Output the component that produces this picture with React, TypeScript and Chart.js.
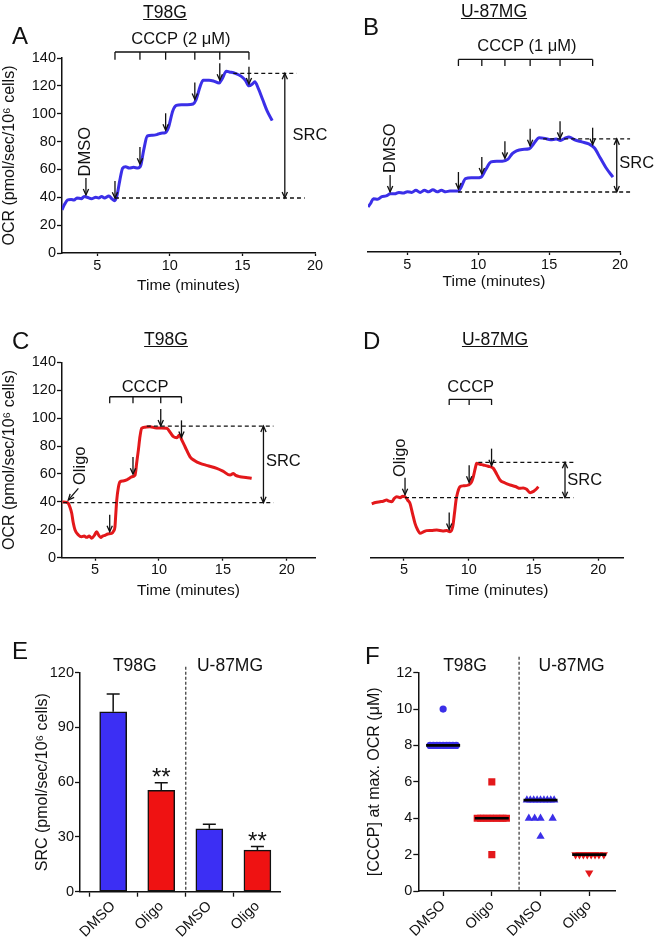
import React, { useEffect, useRef } from 'react';
import { Chart, registerables } from 'chart.js';

Chart.register(...registerables);

const FONT = '"Liberation Sans", Arial, Helvetica, sans-serif';
const INK = '#111111';
const BLUE = '#3b2fe8';
const RED = '#e3181b';
const BAR_BLUE = '#3c2ff4';
const BAR_RED = '#ef1212';

Chart.defaults.font.family = FONT;
Chart.defaults.color = INK;

// ---------------- Panel A : T98G, DMSO then CCCP (2 µM) ----------------
const aTrace: [number, number][] = [
  [2.57, 31], [2.75, 35], [2.95, 38], [3.2, 38.5], [3.4, 38], [3.6, 39.5], [3.9, 39], [4.1, 40.5],
  [4.3, 40], [4.6, 39], [4.9, 40], [5.1, 39.5], [5.3, 40.5], [5.5, 39.5], [5.8, 41], [6.0, 39],
  [6.2, 37.5], [6.35, 41], [6.55, 52], [6.75, 61], [6.95, 62], [7.2, 61], [7.5, 61.5], [7.8, 61],
  [8.0, 63], [8.2, 74], [8.45, 84], [8.8, 84.5], [9.1, 85], [9.4, 86], [9.7, 86.5], [9.9, 90],
  [10.2, 102], [10.45, 106], [10.8, 106.5], [11.2, 106.5], [11.6, 107], [11.8, 110], [12.1, 120],
  [12.3, 124], [12.7, 124], [13.0, 123.5], [13.4, 122], [13.6, 125], [13.9, 130.5], [14.1, 130],
  [14.5, 129], [14.9, 127], [15.2, 124], [15.45, 120], [15.7, 121.5], [15.85, 123], [16.1, 118],
  [16.4, 110], [16.7, 102], [17.05, 95],
];
const aDmsoAt = 4.22;
const aCcccpAt = [6.22, 7.94, 9.71, 11.72, 13.44, 15.45];
const aSrcMax = 129;
const aSrcBasal = 39.5;

// ---------------- Panel B : U-87MG, DMSO then CCCP (1 µM) ----------------
const bTrace: [number, number][] = [
  [2.22, 32.5], [2.4, 35], [2.6, 38.5], [2.9, 38], [3.2, 40], [3.5, 40.5], [3.8, 42], [4.1, 42],
  [4.4, 43], [4.7, 42.5], [5.0, 43.5], [5.3, 43], [5.6, 44.5], [5.9, 43], [6.2, 44.5], [6.5, 43.5],
  [6.8, 45], [7.1, 43.5], [7.4, 44.5], [7.7, 43.5], [8.0, 44], [8.3, 44], [8.6, 44], [8.8, 47],
  [9.1, 53], [9.5, 53.5], [9.9, 53.5], [10.2, 54], [10.5, 59], [10.9, 65], [11.3, 65.5], [11.7, 65.5],
  [12.1, 67], [12.4, 71], [12.7, 73], [13.1, 74], [13.6, 74.5], [13.9, 78], [14.3, 82.5], [14.7, 82],
  [15.1, 81], [15.5, 81.5], [15.8, 80.5], [16.1, 82], [16.4, 83], [16.8, 81], [17.3, 79.5], [17.8, 78],
  [18.2, 75], [18.6, 68], [19.0, 61], [19.5, 54],
];
const bDmsoAt = 3.78;
const bCcccpAt = [8.6, 10.25, 11.88, 13.66, 15.77, 18.07];
const bSrcMax = 81.6;
const bSrcBasal = 43.3;

// ---------------- Panel C : T98G, Oligo then CCCP ----------------
const cTrace: [number, number][] = [
  [2.45, 40], [2.7, 39.8], [2.91, 39], [3.05, 36], [3.18, 31.8], [3.3, 25], [3.44, 19.8], [3.7, 16.3],
  [3.95, 15], [4.15, 15.5], [4.35, 14.6], [4.55, 15.5], [4.74, 13.9], [4.95, 16], [5.13, 18.6], [5.3, 16],
  [5.45, 14.5], [5.6, 15.5], [5.78, 16], [6.0, 17], [6.3, 17.4], [6.45, 19], [6.56, 22.2], [6.63, 32],
  [6.7, 41.3], [6.82, 50], [6.96, 54.4], [7.2, 55], [7.48, 55.7], [7.7, 57], [7.87, 58], [8.13, 59.2],
  [8.26, 68], [8.39, 77.1], [8.52, 87], [8.65, 92.7], [8.9, 93.5], [9.3, 93.8], [9.8, 93], [10.2, 93],
  [10.61, 92.7], [10.9, 89.5], [11.13, 86.7], [11.4, 86], [11.6, 87.9], [11.8, 84], [12.04, 79.5],
  [12.43, 72.3], [12.8, 69.5], [13.22, 67.6], [13.8, 66], [14.52, 64], [15.0, 62], [15.56, 59.2],
  [15.82, 60.4], [16.0, 59], [16.34, 58], [16.8, 57.5], [17.25, 56.9],
];
const cOligoAt = 2.91;
const cCcccpAt = [6.15, 7.97, 10.14, 11.76];
const cSrcMax = 94.3;
const cSrcBasal = 39.4;

// ---------------- Panel D : U-87MG, Oligo then CCCP ----------------
const dTrace: [number, number][] = [
  [2.51, 38.5], [2.8, 39.5], [3.15, 40.1], [3.4, 40.5], [3.66, 41.3], [3.85, 40.5], [4.05, 40.1],
  [4.25, 42.5], [4.44, 43.7], [4.7, 43], [4.9, 44], [5.08, 43.7], [5.3, 41], [5.46, 39], [5.65, 32],
  [5.85, 24.6], [6.05, 20], [6.24, 17.5], [6.5, 18.5], [6.75, 19.4], [7.1, 19.5], [7.53, 19.8],
  [8.0, 19.2], [8.3, 19.5], [8.55, 18.6], [8.76, 22.2], [8.9, 32], [9.02, 41.3], [9.15, 47], [9.32, 50.9],
  [9.6, 51.5], [9.97, 52.1], [10.2, 54], [10.35, 58], [10.5, 64], [10.61, 67.6], [10.85, 67], [11.12, 66.4],
  [11.5, 65.5], [11.9, 64], [12.15, 60], [12.41, 55.7], [12.8, 53.5], [13.19, 52.1], [13.6, 51],
  [13.96, 49.7], [14.2, 50], [14.47, 49], [14.73, 46.6], [15.0, 47.5], [15.2, 49], [15.37, 50.9],
];
const dOligoAt = 5.08;
const dCcccpAt = [8.49, 10.03, 11.76];
const dSrcMax = 68.3;
const dSrcBasal = 43.0;

const timeTicks = [5, 10, 15, 20];

// ---------------- Panel E : SRC bars ----------------
const eCategories = ['DMSO', 'Oligo', 'DMSO', 'Oligo'];
const eCellLines = ['T98G', 'U-87MG'];
const eSrcMean = [98.6, 55.5, 34.5, 22.8];
const eSrcSem = [9.7, 4.2, 2.4, 1.9];
const eStars = ['', '**', '', '**'];

// ---------------- Panel F : [CCCP] at max OCR ----------------
const fCategories = ['DMSO', 'Oligo', 'DMSO', 'Oligo'];
const fCellLines = ['T98G', 'U-87MG'];
const fT98gDmso = [10, 8, 8, 8, 8, 8, 8, 8, 8, 8];
const fT98gDmsoJitter = [0, -0.27, -0.2, -0.13, -0.07, 0, 0.07, 0.13, 0.2, 0.27];
const fT98gOligo = [6, 2, 4, 4, 4, 4, 4, 4, 4, 4, 4, 4];
const fT98gOligoJitter = [0, 0, -0.3, -0.23, -0.17, -0.1, -0.03, 0.03, 0.1, 0.17, 0.23, 0.3];
const fU87Dmso = [5, 5, 5, 5, 5, 5, 5, 5, 5, 4, 4, 4, 4, 3];
const fU87DmsoJitter = [-0.28, -0.21, -0.14, -0.07, 0, 0.07, 0.14, 0.21, 0.28, -0.24, -0.12, 0, 0.25, 0];
const fU87Oligo = [2, 2, 2, 2, 2, 2, 2, 2, 1];
const fU87OligoJitter = [-0.28, -0.2, -0.12, -0.04, 0.04, 0.12, 0.2, 0.3, 0];
const fMedians = [8, 4, 5, 2];

// ---------------- helpers ----------------
type Area = { l: number; r: number; t: number; b: number };
type Ann =
  | { kind: 'drop'; x: number }
  | { kind: 'arrow'; x1: number; y1: number; x2: number; y2: number }
  | { kind: 'hdash'; y: number; x1: number; x2: number }
  | { kind: 'darrow'; x: number; y1: number; y2: number }
  | { kind: 'bracket'; y: number; y2: number; xs: number[] }
  | { kind: 'text'; x: number; y: number; text: string; align?: CanvasTextAlign }
  | { kind: 'vtext'; x: number; y: number; text: string };

function curveAt(trace: [number, number][], t: number) {
  for (let i = 1; i < trace.length; i++) {
    if (trace[i][0] >= t) {
      const [t0, v0] = trace[i - 1];
      const [t1, v1] = trace[i];
      return v0 + ((v1 - v0) * (t - t0)) / (t1 - t0);
    }
  }
  return trace[trace.length - 1][1];
}

function head(ctx: CanvasRenderingContext2D, x: number, y: number, ang: number) {
  const L = 6.5;
  const s = 0.42;
  ctx.beginPath();
  ctx.moveTo(x - L * Math.cos(ang - s), y - L * Math.sin(ang - s));
  ctx.lineTo(x, y);
  ctx.lineTo(x - L * Math.cos(ang + s), y - L * Math.sin(ang + s));
  ctx.stroke();
}

function annPlugin(anns: Ann[], trace: [number, number][]) {
  return {
    id: 'annotations',
    afterDatasetsDraw(chart: any) {
      const ctx: CanvasRenderingContext2D = chart.ctx;
      const X = (v: number) => chart.scales.x.getPixelForValue(v);
      const Y = (v: number) => chart.scales.y.getPixelForValue(v);
      ctx.save();
      ctx.strokeStyle = INK;
      ctx.fillStyle = INK;
      ctx.lineWidth = 1.3;
      ctx.font = `16.5px ${FONT}`;
      for (const a of anns) {
        if (a.kind === 'drop') {
          const px = X(a.x);
          const tip = Y(curveAt(trace, a.x)) - 2;
          ctx.beginPath();
          ctx.moveTo(px, tip - 17);
          ctx.lineTo(px, tip);
          ctx.stroke();
          head(ctx, px, tip, Math.PI / 2);
        } else if (a.kind === 'arrow') {
          const x1 = X(a.x1), y1 = Y(a.y1), x2 = X(a.x2), y2 = Y(a.y2);
          ctx.beginPath();
          ctx.moveTo(x1, y1);
          ctx.lineTo(x2, y2);
          ctx.stroke();
          head(ctx, x2, y2, Math.atan2(y2 - y1, x2 - x1));
        } else if (a.kind === 'hdash') {
          ctx.save();
          ctx.setLineDash([4, 3]);
          ctx.beginPath();
          ctx.moveTo(X(a.x1), Y(a.y));
          ctx.lineTo(X(a.x2), Y(a.y));
          ctx.stroke();
          ctx.restore();
        } else if (a.kind === 'darrow') {
          const px = X(a.x), y1 = Y(a.y1), y2 = Y(a.y2);
          ctx.beginPath();
          ctx.moveTo(px, y1);
          ctx.lineTo(px, y2);
          ctx.stroke();
          head(ctx, px, y1, -Math.PI / 2);
          head(ctx, px, y2, Math.PI / 2);
        } else if (a.kind === 'bracket') {
          const y = Y(a.y), y2 = Y(a.y2);
          ctx.beginPath();
          ctx.moveTo(X(a.xs[0]), y);
          ctx.lineTo(X(a.xs[a.xs.length - 1]), y);
          for (const t of a.xs) {
            ctx.moveTo(X(t), y);
            ctx.lineTo(X(t), y2);
          }
          ctx.stroke();
        } else if (a.kind === 'text') {
          ctx.textAlign = a.align || 'center';
          ctx.textBaseline = 'middle';
          ctx.fillText(a.text, X(a.x), Y(a.y));
        } else if (a.kind === 'vtext') {
          ctx.save();
          ctx.translate(X(a.x), Y(a.y));
          ctx.rotate(-Math.PI / 2);
          ctx.textAlign = 'left';
          ctx.textBaseline = 'middle';
          ctx.fillText(a.text, 0, 0);
          ctx.restore();
        }
      }
      ctx.restore();
    },
  };
}

function axisBase() {
  return {
    border: { color: INK, width: 1.5 },
    grid: { drawOnChartArea: false, drawTicks: true, tickLength: 4, tickColor: INK, tickWidth: 1.3 },
    ticks: { color: INK, font: { size: 14.5, family: FONT }, padding: 2 },
  };
}

type LineSpec = {
  left: number; top: number; w: number; h: number; area: Area;
  xMin: number; xMax: number; showY: boolean; trace: [number, number][];
  color: string; anns: Ann[]; xTitlePad: number;
};

function LinePanel({ spec }: { spec: LineSpec }) {
  const ref = useRef<HTMLCanvasElement>(null);
  useEffect(() => {
    const s = spec;
    const base = axisBase();
    const chart = new Chart(ref.current as HTMLCanvasElement, {
      type: 'line',
      data: {
        datasets: [{
          data: s.trace.map(([x, y]) => ({ x, y })),
          borderColor: s.color, borderWidth: 3, pointRadius: 0,
          cubicInterpolationMode: 'monotone', fill: false,
        }],
      },
      options: {
        responsive: false, animation: false, devicePixelRatio: 1,
        layout: { padding: { left: s.showY ? 0 : s.area.l, right: s.w - s.area.r, top: s.area.t, bottom: 0 } },
        plugins: { legend: { display: false }, tooltip: { enabled: false } },
        scales: {
          x: {
            type: 'linear', min: s.xMin, max: s.xMax, ...base,
            grid: { ...base.grid, tickLength: 3 },
            ticks: { ...base.ticks, maxRotation: 0, autoSkip: false, padding: 1 },
            afterBuildTicks: (sc: any) => { sc.ticks = timeTicks.map((v) => ({ value: v })); },
            afterFit: (sc: any) => { sc.height = s.h - s.area.b; },
            title: { display: true, text: 'Time (minutes)', color: INK, font: { size: 15.5, family: FONT }, padding: { top: 0, bottom: s.xTitlePad } },
          },
          y: {
            type: 'linear', min: 0, max: 140, display: s.showY, ...base,
            grid: { ...base.grid, tickLength: 5 },
            ticks: { ...base.ticks, stepSize: 20, padding: 1 },
            afterFit: (sc: any) => { sc.width = s.showY ? s.area.l : 0; },
            title: { display: true, text: 'OCR (pmol/sec/10⁶ cells)', color: INK, font: { size: 16, family: FONT }, padding: { top: 0, bottom: 0 } },
          },
        },
      } as any,
      plugins: [annPlugin(s.anns, s.trace) as any],
    });
    return () => chart.destroy();
  }, []);
  return (
    <canvas ref={ref} width={spec.w} height={spec.h}
      style={{ position: 'absolute', left: spec.left, top: spec.top, width: spec.w, height: spec.h }} />
  );
}

const panelA: LineSpec = {
  left: 0, top: 0, w: 327, h: 300, area: { l: 62, r: 315, t: 58, b: 253 },
  xMin: 2.57, xMax: 20, showY: true, trace: aTrace, color: BLUE, xTitlePad: 5,
  anns: [
    { kind: 'text', x: 10.76, y: 153, text: 'CCCP (2 μM)' },
    { kind: 'bracket', y: 144.3, y2: 138.7, xs: aCcccpAt },
    ...aCcccpAt.map((t) => ({ kind: 'drop', x: t } as Ann)),
    { kind: 'drop', x: aDmsoAt },
    { kind: 'vtext', x: aDmsoAt, y: 55, text: 'DMSO' },
    { kind: 'hdash', y: aSrcMax, x1: 14.37, x2: 18.72 },
    { kind: 'hdash', y: aSrcBasal, x1: 6.22, x2: 19.29 },
    { kind: 'darrow', x: 17.92, y1: aSrcMax, y2: aSrcBasal },
    { kind: 'text', x: 18.45, y: 84.7, text: 'SRC', align: 'left' },
  ],
};

const panelB: LineSpec = {
  left: 328, top: 0, w: 327, h: 300, area: { l: 40, r: 292, t: 58, b: 252 },
  xMin: 2.22, xMax: 20, showY: false, trace: bTrace, color: BLUE, xTitlePad: 9,
  anns: [
    { kind: 'text', x: 13.43, y: 148.6, text: 'CCCP (1 μM)' },
    { kind: 'bracket', y: 139, y2: 134.2, xs: bCcccpAt },
    ...bCcccpAt.map((t) => ({ kind: 'drop', x: t } as Ann)),
    { kind: 'drop', x: bDmsoAt },
    { kind: 'vtext', x: bDmsoAt, y: 57, text: 'DMSO' },
    { kind: 'hdash', y: bSrcMax, x1: 14.58, x2: 20.71 },
    { kind: 'hdash', y: bSrcBasal, x1: 8.58, x2: 20.71 },
    { kind: 'darrow', x: 19.77, y1: bSrcMax, y2: bSrcBasal },
    { kind: 'text', x: 19.95, y: 63.7, text: 'SRC', align: 'left' },
  ],
};

const panelC: LineSpec = {
  left: 0, top: 300, w: 327, h: 300, area: { l: 62, r: 315, t: 62.3, b: 257.7 },
  xMin: 2.42, xMax: 22.2, showY: true, trace: cTrace, color: RED, xTitlePad: 0,
  anns: [
    { kind: 'text', x: 8.91, y: 122, text: 'CCCP' },
    { kind: 'bracket', y: 115.3, y2: 110.6, xs: cCcccpAt },
    ...cCcccpAt.map((t) => ({ kind: 'drop', x: t } as Ann)),
    { kind: 'arrow', x1: 3.7, y1: 49.7, x2: cOligoAt, y2: 41.3 },
    { kind: 'vtext', x: 3.83, y: 52.1, text: 'Oligo' },
    { kind: 'hdash', y: cSrcMax, x1: 9.05, x2: 18.95 },
    { kind: 'hdash', y: cSrcBasal, x1: 2.52, x2: 18.95 },
    { kind: 'darrow', x: 18.17, y1: cSrcMax, y2: cSrcBasal },
    { kind: 'text', x: 18.36, y: 68.8, text: 'SRC', align: 'left' },
  ],
};

const panelD: LineSpec = {
  left: 328, top: 300, w: 327, h: 300, area: { l: 42.7, r: 295.3, t: 62.3, b: 257.7 },
  xMin: 2.43, xMax: 21.93, showY: false, trace: dTrace, color: RED, xTitlePad: 0,
  anns: [
    { kind: 'text', x: 10.15, y: 122, text: 'CCCP' },
    { kind: 'bracket', y: 113.5, y2: 109.4, xs: dCcccpAt },
    ...dCcccpAt.map((t) => ({ kind: 'drop', x: t } as Ann)),
    { kind: 'drop', x: dOligoAt },
    { kind: 'vtext', x: 4.69, y: 57.8, text: 'Oligo' },
    { kind: 'hdash', y: dSrcMax, x1: 10.74, x2: 18.08 },
    { kind: 'hdash', y: dSrcBasal, x1: 5.08, x2: 18.08 },
    { kind: 'darrow', x: 17.43, y1: dSrcMax, y2: dSrcBasal },
    { kind: 'text', x: 17.61, y: 55.7, text: 'SRC', align: 'left' },
  ],
};

function categoryX(labels: string[], min: number, max: number, h: number, b: number) {
  const base = axisBase();
  return {
    type: 'linear', min, max, offset: false, ...base,
    grid: { ...base.grid, tickLength: 5 },
    ticks: {
      ...base.ticks, minRotation: 45, maxRotation: 45, autoSkip: false, padding: 1,
      callback: (v: number) => (Number.isInteger(v) ? labels[v] : ''),
    },
    afterBuildTicks: (sc: any) => { sc.ticks = labels.map((_, i) => ({ value: i })); },
    afterFit: (sc: any) => { sc.height = h - b; },
  };
}

function groupPlugin(cellLines: string[], groupAt: number[], sepAt: number, sepTop: number, extra: (chart: any) => void) {
  return {
    id: 'groups',
    afterDatasetsDraw(chart: any) {
      const ctx: CanvasRenderingContext2D = chart.ctx;
      const X = (v: number) => chart.scales.x.getPixelForValue(v);
      const area = chart.chartArea;
      ctx.save();
      extra(chart);
      ctx.strokeStyle = '#333';
      ctx.lineWidth = 1.2;
      ctx.setLineDash([3, 2]);
      ctx.beginPath();
      ctx.moveTo(X(sepAt), area.top - sepTop);
      ctx.lineTo(X(sepAt), area.bottom);
      ctx.stroke();
      ctx.setLineDash([]);
      ctx.fillStyle = INK;
      ctx.font = `17.5px ${FONT}`;
      ctx.textAlign = 'center';
      ctx.textBaseline = 'alphabetic';
      cellLines.forEach((c, i) => ctx.fillText(c, X(groupAt[i]), area.top - 2));
      ctx.restore();
    },
  };
}

function EPanel() {
  const ref = useRef<HTMLCanvasElement>(null);
  useEffect(() => {
    const W = 327, H = 340;
    const area: Area = { l: 80, r: 280, t: 72.7, b: 291.7 };
    const base = axisBase();
    const chart = new Chart(ref.current as HTMLCanvasElement, {
      type: 'bar',
      data: {
        datasets: [{
          data: eSrcMean.map((y, i) => ({ x: i, y })),
          backgroundColor: [BAR_BLUE, BAR_RED, BAR_BLUE, BAR_RED],
          borderColor: INK, borderWidth: 1.5, borderSkipped: false, barThickness: 27,
        }],
      },
      options: {
        responsive: false, animation: false, devicePixelRatio: 1,
        layout: { padding: { left: 0, right: W - area.r, top: area.t, bottom: 0 } },
        plugins: { legend: { display: false }, tooltip: { enabled: false } },
        scales: {
          x: categoryX(eCategories, -0.69, 3.47, H, area.b),
          y: {
            type: 'linear', min: 0, max: 120, ...base,
            grid: { ...base.grid, tickLength: 5 },
            ticks: { ...base.ticks, stepSize: 30, padding: 1 },
            afterFit: (sc: any) => { sc.width = area.l; },
            title: { display: true, text: 'SRC (pmol/sec/10⁶ cells)', color: INK, font: { size: 16, family: FONT }, padding: { top: 33, bottom: 0 } },
          },
        },
      } as any,
      plugins: [groupPlugin(eCellLines, [0.45, 2.43], 1.51, 6, (ch: any) => {
        const ctx: CanvasRenderingContext2D = ch.ctx;
        const X = (v: number) => ch.scales.x.getPixelForValue(v);
        const Y = (v: number) => ch.scales.y.getPixelForValue(v);
        ctx.strokeStyle = INK;
        ctx.lineWidth = 1.5;
        ctx.fillStyle = INK;
        ctx.font = `24px ${FONT}`;
        ctx.textAlign = 'center';
        ctx.textBaseline = 'alphabetic';
        eSrcMean.forEach((m, i) => {
          const px = X(i), y0 = Y(m), y1 = Y(m + eSrcSem[i]);
          ctx.beginPath();
          ctx.moveTo(px, y0);
          ctx.lineTo(px, y1);
          ctx.moveTo(px - 6.5, y1);
          ctx.lineTo(px + 6.5, y1);
          ctx.stroke();
          if (eStars[i]) ctx.fillText(eStars[i], px, y1 + 2);
        });
      }) as any],
    });
    return () => chart.destroy();
  }, []);
  return <canvas ref={ref} width={327} height={340} style={{ position: 'absolute', left: 0, top: 600, width: 327, height: 340 }} />;
}

function FPanel() {
  const ref = useRef<HTMLCanvasElement>(null);
  useEffect(() => {
    const W = 327, H = 340;
    const area: Area = { l: 90.3, r: 287, t: 72.7, b: 291 };
    const base = axisBase();
    const pts = (vals: number[], jit: number[], i: number) => vals.map((y, k) => ({ x: i + jit[k], y }));
    const chart = new Chart(ref.current as HTMLCanvasElement, {
      type: 'scatter',
      data: {
        datasets: [
          { data: pts(fT98gDmso, fT98gDmsoJitter, 0), pointStyle: 'circle', pointRadius: 3.6, backgroundColor: BLUE, borderColor: BLUE, borderWidth: 0 },
          { data: pts(fT98gOligo, fT98gOligoJitter, 1), pointStyle: 'rect', pointRadius: 5, backgroundColor: RED, borderColor: RED, borderWidth: 0 },
          { data: pts(fU87Dmso, fU87DmsoJitter, 2), pointStyle: 'triangle', pointRadius: 4.8, backgroundColor: BLUE, borderColor: BLUE, borderWidth: 0 },
          { data: pts(fU87Oligo, fU87OligoJitter, 3), pointStyle: 'triangle', rotation: 180, pointRadius: 4.8, backgroundColor: RED, borderColor: RED, borderWidth: 0 },
        ],
      },
      options: {
        responsive: false, animation: false, devicePixelRatio: 1,
        layout: { padding: { left: 0, right: W - area.r, top: area.t, bottom: 0 } },
        plugins: { legend: { display: false }, tooltip: { enabled: false } },
        scales: {
          x: categoryX(fCategories, -0.51, 3.53, H, area.b),
          y: {
            type: 'linear', min: 0, max: 12, ...base,
            grid: { ...base.grid, tickLength: 5 },
            ticks: { ...base.ticks, stepSize: 2, padding: 1 },
            afterFit: (sc: any) => { sc.width = area.l; },
            title: { display: true, text: '[CCCP] at max. OCR (μM)', color: INK, font: { size: 16, family: FONT }, padding: { top: 37, bottom: 0 } },
          },
        },
      } as any,
      plugins: [groupPlugin(fCellLines, [0.45, 2.64], 1.56, 16, (ch: any) => {
        const ctx: CanvasRenderingContext2D = ch.ctx;
        const X = (v: number) => ch.scales.x.getPixelForValue(v);
        const Y = (v: number) => ch.scales.y.getPixelForValue(v);
        ctx.strokeStyle = '#000';
        ctx.lineWidth = 2.7;
        fMedians.forEach((m, i) => {
          ctx.beginPath();
          ctx.moveTo(X(i) - 17, Y(m));
          ctx.lineTo(X(i) + 17, Y(m));
          ctx.stroke();
        });
      }) as any],
    });
    return () => chart.destroy();
  }, []);
  return <canvas ref={ref} width={327} height={340} style={{ position: 'absolute', left: 328, top: 600, width: 327, height: 340 }} />;
}

function Txt({ x, y, text, size, underline, center }: { x: number; y: number; text: string; size: number; underline?: boolean; center?: boolean }) {
  return (
    <div style={{
      position: 'absolute', left: x, top: y, fontSize: size, lineHeight: 1, whiteSpace: 'nowrap',
      transform: center ? 'translateX(-50%)' : undefined,
      textDecoration: underline ? 'underline' : undefined,
    }}>{text}</div>
  );
}

export default function App() {
  return (
    <div style={{ position: 'absolute', left: 0, top: 0, width: 655, height: 940, background: '#fff', fontFamily: FONT, color: INK, overflow: 'hidden' }}>
      <LinePanel spec={panelA} />
      <LinePanel spec={panelB} />
      <LinePanel spec={panelC} />
      <LinePanel spec={panelD} />
      <EPanel />
      <FPanel />
      <Txt x={12} y={24} text="A" size={24} />
      <Txt x={363} y={15} text="B" size={24} />
      <Txt x={12} y={328.5} text="C" size={24} />
      <Txt x={363} y={328.5} text="D" size={24} />
      <Txt x={12} y={638.5} text="E" size={24} />
      <Txt x={365} y={643.5} text="F" size={24} />
      <Txt x={165} y={4} text="T98G" size={17.5} underline center />
      <Txt x={494} y={3} text="U-87MG" size={17.5} underline center />
      <Txt x={166} y={331} text="T98G" size={17.5} underline center />
      <Txt x={495} y={331} text="U-87MG" size={17.5} underline center />
    </div>
  );
}
